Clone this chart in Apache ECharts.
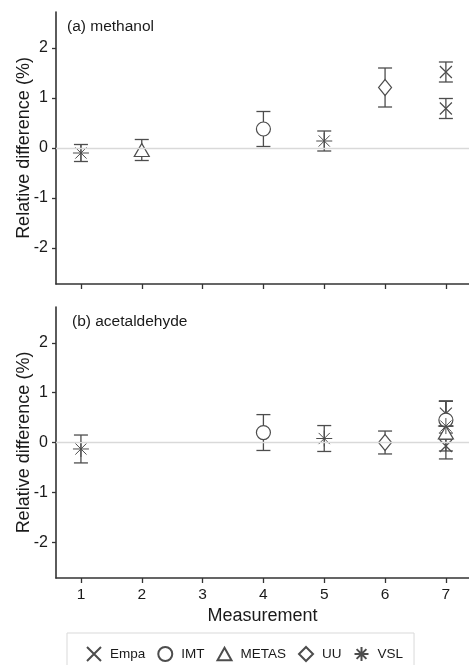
<!DOCTYPE html>
<html>
<head>
<meta charset="utf-8">
<script src="https://cdn.jsdelivr.net/npm/echarts@6/dist/echarts.min.js"></script>
<style>
  html, body { margin: 0; padding: 0; background: #fff; }
  #chart { width: 469px; height: 665px; }
</style>
</head>
<body>
<div id="chart"></div>
<script>
// Measurement positions shown on the x axis
const measurements = [1, 2, 3, 4, 5, 6, 7];
const yTicks = [-2, -1, 0, 1, 2];
const labs = ['Empa', 'IMT', 'METAS', 'UU', 'VSL'];

// Each entry: [measurement, relative difference (%), expanded uncertainty (%)]
// (a) methanol
const methanolEmpa  = [[7, 1.52, 0.20], [7, 0.79, 0.20]];
const methanolIMT   = [[4, 0.38, 0.35]];
const methanolMETAS = [[2, -0.04, 0.21]];
const methanolUU    = [[6, 1.21, 0.39]];
const methanolVSL   = [[1, -0.10, 0.17], [5, 0.14, 0.20]];

// (b) acetaldehyde
const acetEmpa  = [[7, 0.58, 0.25], [7, -0.07, 0.26]];
const acetIMT   = [[4, 0.20, 0.36], [7, 0.45, 0.38]];
const acetMETAS = [[7, 0.20, 0.13]];
const acetUU    = [[6, 0.00, 0.23]];
const acetVSL   = [[1, -0.13, 0.28], [5, 0.08, 0.26], [7, 0.33, 0.50]];

const panels = [
  { title: '(a) methanol', data: [methanolEmpa, methanolIMT, methanolMETAS, methanolUU, methanolVSL] },
  { title: '(b) acetaldehyde', data: [acetEmpa, acetIMT, acetMETAS, acetUU, acetVSL] }
];

// Open ggplot-style point shapes
const symbols = {
  Empa: 'path://M0,0L10,10M10,0L0,10',
  IMT: 'circle',
  METAS: 'path://M5,0L10,9L0,9Z',
  UU: 'path://M5,0L10,5L5,10L0,5Z',
  VSL: 'path://M0,5L10,5M5,0L5,10M1.5,1.5L8.5,8.5M8.5,1.5L1.5,8.5'
};
const symbolSizes = {
  Empa: 12, IMT: 14, METAS: [15, 13], UU: [13, 16], VSL: 16
};

const ink = '#1a1a1a';
const markColor = '#4d4d4d';
const font = 'Liberation Sans, Arial, sans-serif';

const grids = [
  { left: 56, top: 12, width: 413, height: 272, containLabel: false, outerBoundsMode: 'none' },
  { left: 56, top: 307, width: 413, height: 271, containLabel: false, outerBoundsMode: 'none' }
];

const xAxes = grids.map((g, i) => ({
  type: 'value',
  gridIndex: i,
  min: 0.59,
  max: 7.38,
  splitLine: { show: false },
  axisLine: { onZero: false, lineStyle: { color: '#333', width: 1.6 } },
  axisTick: { show: true, length: 5, customValues: measurements, lineStyle: { color: '#333', width: 1.3 } },
  axisLabel: {
    show: i === 1,
    customValues: measurements,
    color: ink, fontSize: 15.5, fontFamily: font, margin: 9
  },
  name: i === 1 ? 'Measurement' : '',
  nameLocation: 'middle',
  nameGap: 29,
  nameMoveOverlap: false,
  nameTextStyle: { color: ink, fontSize: 18, fontFamily: font }
}));

const yAxes = grids.map((g, i) => ({
  type: 'value',
  gridIndex: i,
  min: -2.72,
  max: 2.72,
  splitLine: { show: false },
  axisLine: { show: true, onZero: false, lineStyle: { color: '#333', width: 1.6 } },
  axisTick: { show: true, length: 4, customValues: yTicks, lineStyle: { color: '#333', width: 1.3 } },
  axisLabel: { customValues: yTicks, color: ink, fontSize: 16, fontFamily: font, margin: 8 },
  name: 'Relative difference (%)',
  nameLocation: 'middle',
  nameGap: 23,
  nameMoveOverlap: false,
  nameTextStyle: { color: ink, fontSize: 18, fontFamily: font }
}));

const series = [];

panels.forEach((panel, p) => {
  // zero reference line
  series.push({
    type: 'line',
    xAxisIndex: p, yAxisIndex: p,
    data: [],
    silent: true,
    z: 1,
    markLine: {
      silent: true,
      symbol: 'none',
      label: { show: false },
      lineStyle: { color: '#d9d9d9', width: 1.3, type: 'solid' },
      data: [{ yAxis: 0 }]
    }
  });

  // uncertainty bars for every lab
  const bars = [];
  panel.data.forEach(arr => arr.forEach(d => bars.push([d[0], d[1] - d[2], d[1] + d[2]])));
  series.push({
    type: 'custom',
    xAxisIndex: p, yAxisIndex: p,
    silent: true,
    z: 2,
    data: bars,
    renderItem: function (params, api) {
      const x = api.value(0);
      const lo = api.coord([x, api.value(1)]);
      const hi = api.coord([x, api.value(2)]);
      const cap = 7;
      const style = { stroke: markColor, lineWidth: 1.3 };
      return {
        type: 'group',
        children: [
          { type: 'line', shape: { x1: lo[0], y1: lo[1], x2: hi[0], y2: hi[1] }, style: style },
          { type: 'line', shape: { x1: lo[0] - cap, y1: lo[1], x2: lo[0] + cap, y2: lo[1] }, style: style },
          { type: 'line', shape: { x1: hi[0] - cap, y1: hi[1], x2: hi[0] + cap, y2: hi[1] }, style: style }
        ]
      };
    }
  });

  // points
  labs.forEach((lab, k) => {
    series.push({
      name: lab,
      type: 'scatter',
      xAxisIndex: p, yAxisIndex: p,
      z: 3,
      symbol: symbols[lab],
      symbolSize: symbolSizes[lab],
      itemStyle: {
        color: lab === 'Empa' || lab === 'VSL' ? 'rgba(255,255,255,0)' : '#fff',
        borderColor: markColor,
        borderWidth: lab === 'VSL' ? 1 : 1.2,
        opacity: 1
      },
      emphasis: { disabled: true },
      data: panel.data[k].map(d => [d[0], d[1]])
    });
  });
});

const chart = echarts.init(document.getElementById('chart'), null, { renderer: 'canvas' });
chart.setOption({
  animation: false,
  backgroundColor: '#fff',
  grid: grids,
  xAxis: xAxes,
  yAxis: yAxes,
  title: [
    { text: panels[0].title, left: 62, top: 14, textStyle: { color: ink, fontSize: 15.5, fontWeight: 'normal', fontFamily: font } },
    { text: panels[1].title, left: 67, top: 309, textStyle: { color: ink, fontSize: 15.5, fontWeight: 'normal', fontFamily: font } }
  ],
  legend: {
    data: labs,
    left: 67,
    top: 633,
    orient: 'horizontal',
    padding: [13, 11, 20, 19],
    itemGap: 12,
    itemWidth: 14,
    itemHeight: 14,
    borderColor: '#d9d9d9',
    borderWidth: 1,
    selectedMode: false,
    textStyle: { color: ink, fontSize: 13.5, fontFamily: font, padding: [0, 0, 0, 4] }
  },
  series: series
});
</script>
</body>
</html>
